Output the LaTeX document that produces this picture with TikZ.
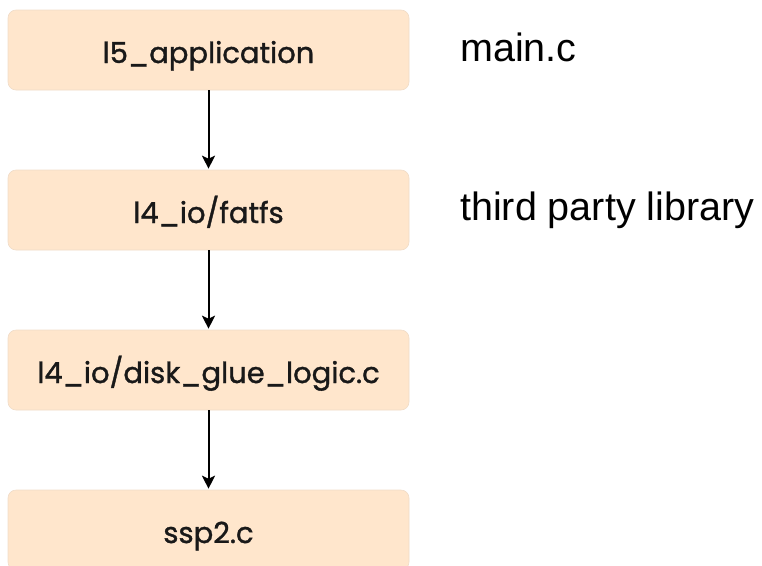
\documentclass[tikz,border=0pt]{standalone}
\usepackage{fontspec}
\setmainfont{Liberation Sans}
\newfontfamily\boxfont[FakeBold=1.2]{Poppins}
\usetikzlibrary{arrows.meta}
\definecolor{boxfill}{HTML}{FFE6CC}
\definecolor{boxline}{HTML}{F0DCC8}
\begin{document}
\begin{tikzpicture}[x=1pt,y=-1pt,
  layer/.style={draw=boxline, line width=0.6pt, fill=boxfill, rounded corners=8pt,
    minimum width=401pt, minimum height=80pt, inner sep=0pt,
    text height=26pt, text depth=0pt,
    font=\boxfont\fontsize{29}{34}\selectfont, text=black!90},
  side/.style={anchor=base west, font=\fontsize{39.5}{44}\selectfont, inner sep=0pt},
  conn/.style={line width=2pt, shorten >=1pt, -{Stealth[length=13pt,width=13pt,inset=3pt]}}]
\useasboundingbox (0,0) rectangle (762,565);
\clip (0,0) rectangle (762,565);
\node[layer] (app) at (208.5,50) {l5\_application};
\node[layer] (fat) at (208.5,210) {l4\_io/fatfs};
\node[layer] (glue) at (208.5,370) {l4\_io/disk\_glue\_logic.c};
\node[layer] (ssp) at (208.5,530) {ssp2.c};
\node[side] (mainc) at (460,61) {main.c};
\node[side] (third) at (460,220) {third party library};
\draw[conn] (app) -- (fat);
\draw[conn] (fat) -- (glue);
\draw[conn] (glue) -- (ssp);
\end{tikzpicture}
\end{document}
